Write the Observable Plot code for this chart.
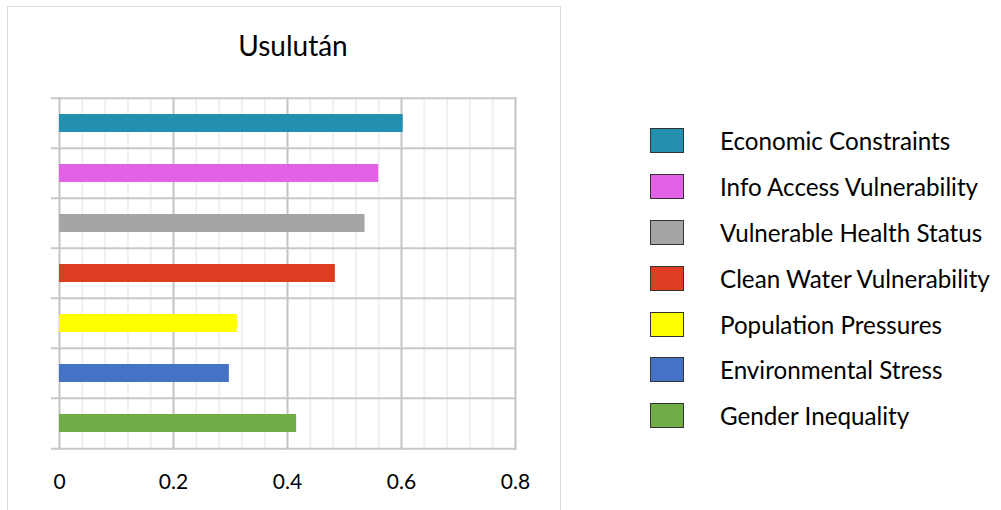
<!DOCTYPE html>
<html>
<head>
<meta charset="utf-8">
<script src="https://cdn.jsdelivr.net/npm/d3@7"></script>
<script src="https://cdn.jsdelivr.net/npm/@observablehq/plot@0.6"></script>
<style>
  html, body { margin: 0; padding: 0; background: #fff; overflow: hidden; }
  #wrap { position: relative; width: 1001px; height: 510px; font-family: Lato, "Open Sans", sans-serif; color: #000; }
  #border { position: absolute; left: 7px; top: 6px; width: 554px; height: 600px; border: 1.5px solid #d9d9d9; box-sizing: border-box; }
  #title { position: absolute; left: 0; width: 586px; top: 28px; text-align: center; font-size: 28px; }
  #chart { position: absolute; left: 0; top: 0; }
  #legend { position: absolute; left: 650px; top: 118px; }
  .row { display: flex; align-items: center; height: 45.8px; }
  .sw { width: 32px; height: 23px; border: 1px solid #333; box-sizing: content-box; }
  .lab { margin-left: 36px; font-size: 24.2px; white-space: nowrap; }
</style>
</head>
<body>
<div id="wrap">
  <div id="border"></div>
  <div id="chart"></div>
  <div id="title"></div>
  <div id="legend"></div>
</div>
<script>
const title = "Usulután";
const categories = [
  "Economic Constraints",
  "Info Access Vulnerability",
  "Vulnerable Health Status",
  "Clean Water Vulnerability",
  "Population Pressures",
  "Environmental Stress",
  "Gender Inequality"
];
const values = [0.603, 0.560, 0.536, 0.484, 0.312, 0.298, 0.416];
const colors = ["#2390B0", "#E262E6", "#A5A5A5", "#E03C22", "#FFFF00", "#4472C4", "#70AD47"];
const xTicks = [0, 0.2, 0.4, 0.6, 0.8];
const minorTicks = [0.04, 0.08, 0.12, 0.16, 0.24, 0.28, 0.32, 0.36, 0.44, 0.48, 0.52, 0.56, 0.64, 0.68, 0.72, 0.76];

const data = categories.map((c, i) => ({category: c, value: values[i], color: colors[i]}));

const W = 1001, H = 510, mT = 97, mB = 60, mL = 59, mR = 486;
const step = (H - mT - mB) / categories.length;

const chart = Plot.plot({
  width: W,
  height: H,
  marginTop: mT,
  marginBottom: mB,
  marginLeft: mL,
  marginRight: mR,
  style: {fontFamily: "Lato, 'Open Sans', sans-serif", fontSize: "21px", color: "#000", background: "transparent"},
  x: {domain: [0, 0.8], ticks: xTicks, tickFormat: d => String(d), tickSize: 0, tickPadding: 24, label: null},
  y: {domain: categories, paddingInner: 0.636, paddingOuter: 0.318, axis: null},
  marks: [
    Plot.ruleX(minorTicks, {stroke: "#f0f0f0", strokeWidth: 2}),
    Plot.ruleX(xTicks, {stroke: "#c3c3c3", strokeWidth: 2}),
    Plot.ruleY(categories, {y: d => d, dy: -step / 2, stroke: "#c8c8c8", strokeWidth: 2, insetLeft: -8}),
    Plot.ruleY(categories.slice(-1), {y: d => d, dy: step / 2, stroke: "#c8c8c8", strokeWidth: 2, insetLeft: -8}),
    Plot.barX(data, {x: "value", y: "category", fill: "color"})
  ]
});
document.getElementById("chart").appendChild(chart);
document.getElementById("title").textContent = title;

const legend = document.getElementById("legend");
categories.forEach((c, i) => {
  const row = document.createElement("div");
  row.className = "row";
  const sw = document.createElement("div");
  sw.className = "sw";
  sw.style.background = colors[i];
  const lab = document.createElement("div");
  lab.className = "lab";
  lab.textContent = c;
  row.appendChild(sw);
  row.appendChild(lab);
  legend.appendChild(row);
});
</script>
</body>
</html>
